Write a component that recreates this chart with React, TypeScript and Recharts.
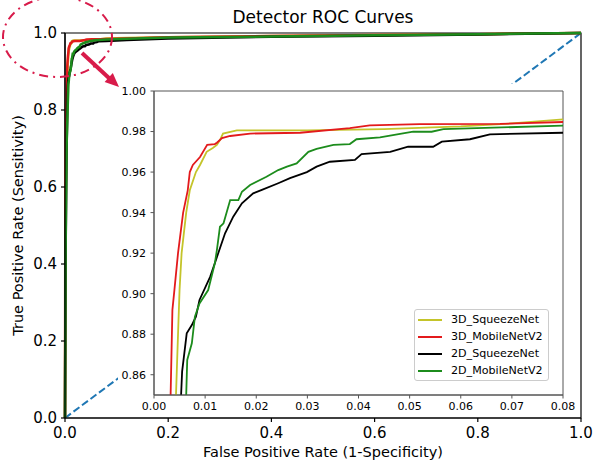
import React from 'react';
import { LineChart, Line, XAxis, YAxis, ReferenceArea, Legend, Label } from 'recharts';

const FONT = '"DejaVu Sans", "Liberation Sans", sans-serif';

const seriesNames = ['3D_SqueezeNet', '3D_MobileNetV2', '2D_SqueezeNet', '2D_MobileNetV2'];
const seriesColors = ['#c4c42a', '#e31a1c', '#000000', '#1c8c1c'];

// 3D_SqueezeNet
const sq3dFpr = [0, 0.001, 0.002, 0.0035, 0.0043, 0.0047, 0.005, 0.0054, 0.0063, 0.007, 0.0082, 0.009, 0.0103, 0.0115, 0.0123, 0.0129, 0.0135, 0.0162, 0.03, 0.045, 0.06, 0.07, 0.08, 0.12, 0.2, 0.4, 0.6, 0.8, 1];
const sq3dTpr = [0, 0.5, 0.68, 0.8, 0.85, 0.88, 0.902, 0.92, 0.94, 0.951, 0.96, 0.9635, 0.97, 0.9719, 0.9734, 0.9758, 0.979, 0.9806, 0.9806, 0.9812, 0.9825, 0.984, 0.986, 0.987, 0.989, 0.992, 0.995, 0.997, 1];

// 3D_MobileNetV2
const mb3dFpr = [0, 0.0005, 0.0015, 0.0025, 0.00325, 0.0035, 0.0036, 0.004, 0.0047, 0.0057, 0.0066, 0.007, 0.0076, 0.009, 0.0104, 0.0119, 0.0123, 0.0133, 0.0149, 0.0188, 0.0286, 0.0383, 0.0422, 0.052, 0.0677, 0.08, 0.12, 0.2, 0.4, 0.6, 0.8, 1];
const mb3dTpr = [0, 0.45, 0.7, 0.8, 0.85, 0.88, 0.892, 0.902, 0.92, 0.94, 0.951, 0.96, 0.9635, 0.9674, 0.9734, 0.9738, 0.9745, 0.9768, 0.9778, 0.979, 0.9794, 0.9817, 0.983, 0.9837, 0.9838, 0.9847, 0.986, 0.989, 0.992, 0.995, 0.997, 1];

// 2D_SqueezeNet
const sq2dFpr = [0, 0.001, 0.003, 0.0045, 0.0053, 0.0055, 0.0064, 0.0074, 0.0082, 0.0089, 0.011, 0.0123, 0.0139, 0.0155, 0.0172, 0.0194, 0.0211, 0.0243, 0.0266, 0.0299, 0.0318, 0.0344, 0.0393, 0.0406, 0.0462, 0.0497, 0.0546, 0.0563, 0.0618, 0.0657, 0.08, 0.12, 0.2, 0.4, 0.6, 0.8, 1];
const sq2dTpr = [0, 0.4, 0.7, 0.8, 0.85, 0.8615, 0.8804, 0.8845, 0.8886, 0.8969, 0.9084, 0.918, 0.9298, 0.938, 0.9446, 0.9495, 0.9512, 0.9545, 0.957, 0.96, 0.9627, 0.9651, 0.966, 0.9689, 0.97, 0.9725, 0.9725, 0.975, 0.9762, 0.9786, 0.9794, 0.982, 0.986, 0.99, 0.993, 0.996, 1];

// 2D_MobileNetV2
const mb2dFpr = [0, 0.001, 0.003, 0.005, 0.0063, 0.0065, 0.0074, 0.008, 0.0089, 0.0106, 0.0119, 0.0123, 0.0129, 0.0136, 0.0149, 0.0165, 0.0172, 0.0188, 0.022, 0.0243, 0.026, 0.0279, 0.0302, 0.0318, 0.0351, 0.0383, 0.0396, 0.0442, 0.0487, 0.0507, 0.0543, 0.0566, 0.08, 0.12, 0.2, 0.4, 0.6, 0.8, 1];
const mb2dTpr = [0, 0.42, 0.7, 0.8, 0.85, 0.8673, 0.8755, 0.8886, 0.8952, 0.9018, 0.915, 0.9215, 0.933, 0.9347, 0.9462, 0.9462, 0.9503, 0.9536, 0.9577, 0.961, 0.9627, 0.9643, 0.97, 0.9714, 0.9734, 0.9738, 0.9762, 0.9771, 0.9791, 0.9799, 0.9799, 0.9812, 0.9829, 0.985, 0.988, 0.991, 0.994, 0.997, 1];

// chance line
const chanceFpr = [0, 1];
const chanceTpr = [0, 1];

const mainTicks = [0, 0.2, 0.4, 0.6, 0.8, 1.0];
const insetXTicks = [0, 0.01, 0.02, 0.03, 0.04, 0.05, 0.06, 0.07, 0.08];
const insetYTicks = [0.86, 0.88, 0.9, 0.92, 0.94, 0.96, 0.98, 1.0];

const toPoints = (xs: number[], ys: number[]) => xs.map((x, i) => ({ x, y: ys[i] }));

const seriesData = [
  toPoints(sq3dFpr, sq3dTpr),
  toPoints(mb3dFpr, mb3dTpr),
  toPoints(sq2dFpr, sq2dTpr),
  toPoints(mb2dFpr, mb2dTpr),
];
const chanceData = toPoints(chanceFpr, chanceTpr);

const InsetLegend = () => (
  <div
    style={{
      border: '1px solid #cccccc',
      borderRadius: 3,
      background: '#ffffff',
      padding: '2px 2px 2px 3px',
      boxSizing: 'border-box',
      width: 135,
      minWidth: 135,
      maxWidth: 135,
      height: 72,
      overflow: 'visible',
    }}
  >
    {seriesNames.map((n, i) => (
      <div key={n} style={{ display: 'flex', alignItems: 'center', height: 16.8 }}>
        <svg width={24} height={4} style={{ marginRight: 9, flexShrink: 0 }}>
          <line x1={0} y1={2} x2={24} y2={2} stroke={seriesColors[i]} strokeWidth={2} />
        </svg>
        <span style={{ fontSize: 11.1, fontFamily: FONT, color: '#000', whiteSpace: 'nowrap', lineHeight: '14px' }}>{n}</span>
      </div>
    ))}
  </div>
);

export default function App() {
  return (
    <div style={{ position: 'absolute', left: 0, top: 0, width: 593, height: 463, background: '#fff', fontFamily: FONT }}>
      <div style={{ position: 'absolute', left: 0, top: 0 }}>
        <LineChart width={593} height={463} data={chanceData} margin={{ top: 33, right: 12, bottom: 0, left: 15 }}>
          <XAxis
            type="number"
            dataKey="x"
            domain={[0, 1]}
            ticks={mainTicks}
            tickFormatter={(v: number) => v.toFixed(1)}
            height={45}
            tickSize={4}
            tickMargin={5}
            axisLine={{ stroke: '#000', strokeWidth: 1.2 }}
            tickLine={{ stroke: '#000', strokeWidth: 1.2 }}
            tick={{ fontSize: 15, fill: '#000', fontFamily: FONT }}
          >
            <Label value="False Positive Rate (1-Specificity)" position="insideBottom" offset={6} style={{ fontSize: 14.5, fill: '#000', fontFamily: FONT }} />
          </XAxis>
          <YAxis
            type="number"
            dataKey="y"
            domain={[0, 1]}
            ticks={mainTicks}
            tickFormatter={(v: number) => v.toFixed(1)}
            width={50}
            tickSize={4}
            tickMargin={4}
            axisLine={{ stroke: '#000', strokeWidth: 1.2 }}
            tickLine={{ stroke: '#000', strokeWidth: 1.2 }}
            tick={{ fontSize: 15, fill: '#000', fontFamily: FONT }}
          >
            <Label value="True Positive Rate (Sensitivity)" angle={-90} position="insideLeft" offset={3} style={{ fontSize: 14.5, fill: '#000', fontFamily: FONT, textAnchor: 'middle' }} />
          </YAxis>
          <ReferenceArea x1={0} x2={1} y1={0} y2={1} fill="none" stroke="#000" strokeWidth={1.2} />
          <Line data={chanceData} dataKey="y" stroke="#1f77b4" strokeWidth={2} strokeDasharray="7.4 3.2" dot={false} activeDot={false} isAnimationActive={false} legendType="none" />
          {seriesData.map((d, i) => (
            <Line key={seriesNames[i]} data={d} dataKey="y" name={seriesNames[i]} stroke={seriesColors[i]} strokeWidth={2.5} dot={false} activeDot={false} isAnimationActive={false} />
          ))}
        </LineChart>
      </div>

      <div style={{ position: 'absolute', left: 118, top: 84, width: 462, height: 330, background: '#fff' }}>
        <LineChart width={462} height={330} margin={{ top: 7, right: 17, bottom: 0, left: 2 }}>
          <XAxis
            type="number"
            dataKey="x"
            domain={[0, 0.08]}
            allowDataOverflow
            ticks={insetXTicks}
            tickFormatter={(v: number) => v.toFixed(2)}
            height={19}
            tickSize={3.5}
            tickMargin={4}
            axisLine={{ stroke: '#555', strokeWidth: 1 }}
            tickLine={{ stroke: '#555', strokeWidth: 1 }}
            tick={{ fontSize: 11, fill: '#000', fontFamily: FONT }}
            interval={0}
          />
          <YAxis
            type="number"
            dataKey="y"
            domain={[0.85, 1.0]}
            allowDataOverflow
            ticks={insetYTicks}
            tickFormatter={(v: number) => v.toFixed(2)}
            width={34}
            tickSize={3.5}
            tickMargin={4.5}
            axisLine={{ stroke: '#555', strokeWidth: 1 }}
            tickLine={{ stroke: '#555', strokeWidth: 1 }}
            tick={{ fontSize: 11, fill: '#000', fontFamily: FONT }}
            interval={0}
          />
          <ReferenceArea x1={0} x2={0.08} y1={0.85} y2={1.0} fill="none" stroke="#555" strokeWidth={1} />
          {seriesData.map((d, i) => (
            <Line key={seriesNames[i]} data={d} dataKey="y" name={seriesNames[i]} stroke={seriesColors[i]} strokeWidth={1.8} dot={false} activeDot={false} isAnimationActive={false} />
          ))}
          <Legend
            layout="vertical"
            align="center"
            verticalAlign="middle"
            width={135}
            height={72}
            wrapperStyle={{ position: 'absolute', left: 296, top: 225, right: 'auto', bottom: 'auto', width: 135, height: 72, margin: 0, padding: 0 }}
            content={() => <InsetLegend />}
          />
        </LineChart>
      </div>

      <svg width={593} height={463} style={{ position: 'absolute', left: 0, top: 0, pointerEvents: 'none' }}>
        <text x={323} y={23} textAnchor="middle" fontSize={17} fontFamily={FONT} fill="#000">Detector ROC Curves</text>
        <ellipse cx={57.5} cy={37} rx={54.5} ry={40} fill="none" stroke="#d81b4a" strokeWidth={2} strokeDasharray="9 5 2 5" />
        <line x1={82} y1={53} x2={110} y2={79} stroke="#d81b4a" strokeWidth={4} />
        <polygon points="119,87 104.6,81.9 112.8,73.1" fill="#d81b4a" />
      </svg>
    </div>
  );
}
